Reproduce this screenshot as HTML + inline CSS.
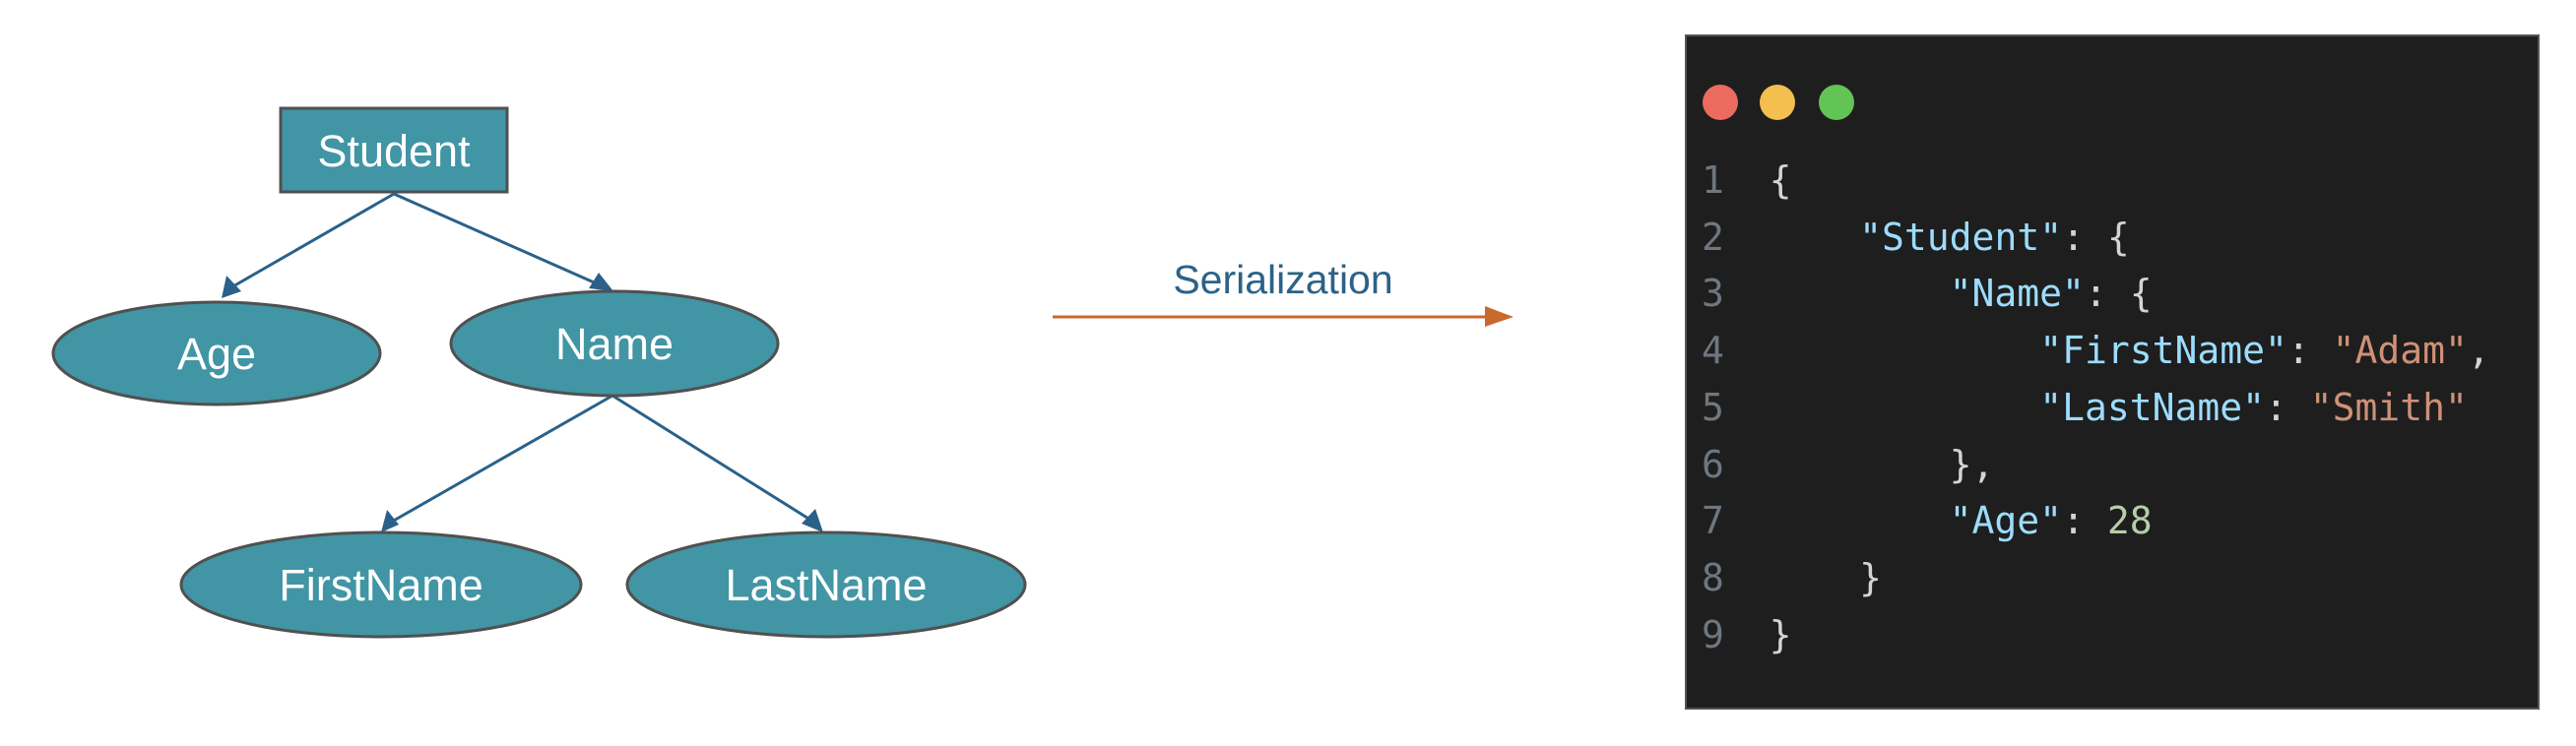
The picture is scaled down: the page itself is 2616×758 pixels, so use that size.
<!DOCTYPE html>
<html><head><meta charset="utf-8"><style>
html,body{margin:0;padding:0;background:#fff;}
body{width:2616px;height:758px;overflow:hidden;position:relative;}
svg{position:absolute;left:0;top:0;}
.code{position:absolute;left:1711px;top:35px;width:868px;height:686px;background:#1e1e1e;border:2px solid #555;box-sizing:border-box;}
.dot{position:absolute;width:36px;height:36px;border-radius:50%;top:49px;}
pre{position:absolute;margin:0;left:15px;top:118px;font-family:"DejaVu Sans Mono","Liberation Mono",monospace;font-size:38px;line-height:57.7px;color:#d4d4d4;letter-spacing:0px;}
.n{color:#6e7681;}.k{color:#9cdcfe;}.s{color:#ce9178;}.m{color:#b5cea8;}
</style></head><body>
<svg width="2616" height="758" viewBox="0 0 2616 758">
<g stroke="#2a6189" stroke-width="3">
<line x1="400" y1="197" x2="235" y2="292"/>
<line x1="400" y1="197" x2="610" y2="290"/>
<line x1="622" y1="402" x2="398" y2="530"/>
<line x1="622" y1="402" x2="826" y2="530"/>
</g>
<g fill="#2a6189">
<polygon points="225,303 230,280 245,296"/>
<polygon points="623,296 598,293 608,277"/>
<polygon points="387,541 393,518 405,533"/>
<polygon points="836,541 814,532 828,517"/>
</g>
<rect x="285" y="110" width="230" height="85" fill="#4195a4" stroke="#505050" stroke-width="3"/>
<g fill="#4195a4" stroke="#505050" stroke-width="3">
<ellipse cx="220" cy="359" rx="166" ry="52"/>
<ellipse cx="624" cy="349" rx="166" ry="53"/>
<ellipse cx="387" cy="594" rx="203" ry="53"/>
<ellipse cx="839" cy="594" rx="202" ry="53"/>
</g>
<g fill="#fff" font-family="Liberation Sans, sans-serif" font-size="45" text-anchor="middle">
<text x="400" y="169">Student</text>
<text x="220" y="375">Age</text>
<text x="624" y="365">Name</text>
<text x="387" y="610">FirstName</text>
<text x="839" y="610">LastName</text>
</g>
<text x="1303" y="298" fill="#2c6286" font-family="Liberation Sans, sans-serif" font-size="41" text-anchor="middle">Serialization</text>
<line x1="1069" y1="322" x2="1510" y2="322" stroke="#c9692e" stroke-width="3"/>
<polygon points="1508,311 1537,322 1508,332" fill="#c9692e"/>
</svg>
<div class="code">
<div class="dot" style="left:16px;background:#ec6b60"></div>
<div class="dot" style="left:74px;background:#f4bf4f"></div>
<div class="dot" style="left:134px;background:#61c454"></div>
<pre><span class="n">1</span>  {
<span class="n">2</span>      <span class="k">"Student"</span>: {
<span class="n">3</span>          <span class="k">"Name"</span>: {
<span class="n">4</span>              <span class="k">"FirstName"</span>: <span class="s">"Adam"</span>,
<span class="n">5</span>              <span class="k">"LastName"</span>: <span class="s">"Smith"</span>
<span class="n">6</span>          },
<span class="n">7</span>          <span class="k">"Age"</span>: <span class="m">28</span>
<span class="n">8</span>      }
<span class="n">9</span>  }</pre>
</div>
</body></html>
